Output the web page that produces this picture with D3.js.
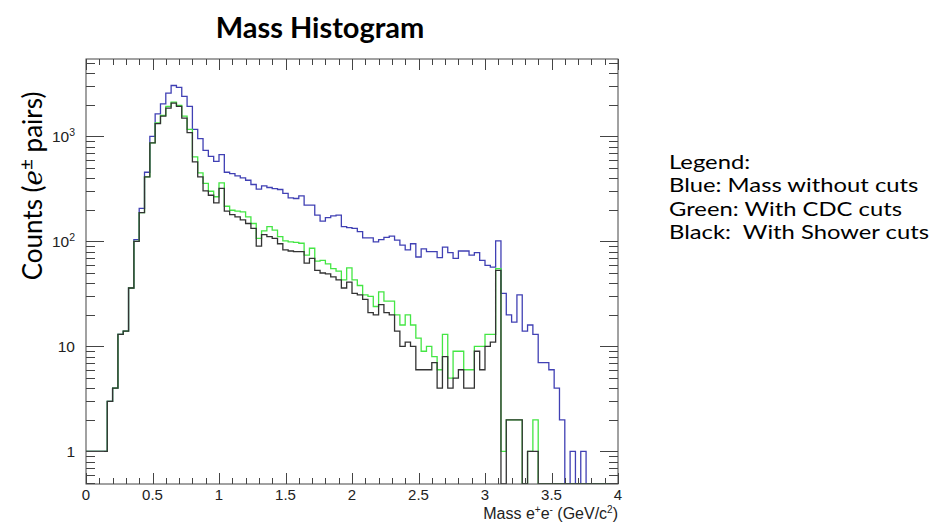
<!DOCTYPE html>
<html>
<head lang="en">
  <title>Mass Histogram</title>
  <script src="https://d3js.org/d3.v7.min.js" charset="utf-8"></script>
  <style>
    body { margin: 0; background: #fff; }
    text { white-space: pre; }
  </style>
</head>
<body>
  <script>
    // histogram: 100 bins of 0.04 GeV/c^2 from 0 to 4
    var binWidth = 0.04;

    var blueCounts = [
      1, 1, 1, 1, 3, 4, 13, 14, 36, 104,
      206, 455, 1000, 1640, 2040, 2580, 3050, 2920, 2400, 1930,
      1165, 951, 736, 646, 579, 670, 455, 442, 420, 402,
      382, 348, 314, 337, 326, 318, 312, 286, 260, 256,
      271, 221, 221, 178, 156, 168, 175, 178, 138, 135,
      133, 124, 108, 108, 99, 104, 109, 112, 103, 92,
      83, 95, 71, 85, 80, 80, 70, 88, 78, 69,
      81, 81, 74, 78, 66, 59, 57, 101, 32, 20,
      17, 31, 14, 16, 13, 7, 7, 6, 4, 2,
      0, 1, 0, 1, 0, 0, 0, 0, 0, 0
    ];

    var greenCounts = [
      1, 1, 1, 1, 3, 4, 13, 14, 36, 100,
      188, 411, 865, 1340, 1580, 1930, 2120, 1970, 1560, 1165,
      637, 449, 356, 300, 266, 360, 216, 198, 194, 191,
      171, 148, 107, 126, 138, 128, 111, 101, 99, 98,
      96, 74, 86, 65, 66, 61, 55, 52, 43, 56,
      43, 38, 31, 30, 24, 33, 27, 27, 20, 16,
      20, 16, 12, 9, 10, 8, 6, 13, 5, 9,
      9, 6, 6, 10, 10, 13, 13, 55, 1, 2,
      2, 2, 0, 1, 2, 0, 0, 0, 0, 0,
      0, 0, 0, 0, 0, 0, 0, 0, 0, 0
    ];

    var blackCounts = [
      1, 1, 1, 1, 3, 4, 13, 14, 36, 100,
      188, 411, 865, 1320, 1560, 1860, 2070, 1930, 1490, 1083,
      571, 411, 303, 275, 233, 320, 194, 180, 171, 160,
      148, 133, 90, 116, 111, 107, 95, 83, 81, 80,
      80, 62, 69, 53, 50, 49, 46, 43, 36, 41,
      32, 31, 28, 21, 20, 25, 21, 20, 14, 10,
      11, 10, 6, 6, 6, 7, 4, 8, 4, 5,
      6, 4, 4, 9, 6, 10, 11, 53, 0, 2,
      2, 2, 0, 1, 1, 0, 0, 0, 0, 0,
      0, 0, 0, 0, 0, 0, 0, 0, 0, 0
    ];

    var xMajorTicks = [0, 0.5, 1, 1.5, 2, 2.5, 3, 3.5, 4];
    var xTickLabels = ["0", "0.5", "1", "1.5", "2", "2.5", "3", "3.5", "4"];
    var yMajorTicks = [1, 10, 100, 1000];
    var legendLines = ["Legend:", "Blue: Mass without cuts", "Green: With CDC cuts", "Black:  With Shower cuts"];

    var width = 943;
    var height = 523;
    var frame = { left: 86, right: 618, top: 59, bottom: 484 };

    var svg = d3.select("body")
      .append("svg")
      .attr("width", width)
      .attr("height", height);

    var x = d3.scaleLinear()
      .domain([0, 4])
      .range([frame.left, frame.right]);

    var yMin = 0.49;
    var y = d3.scaleLog()
      .domain([yMin, 5450])
      .range([frame.bottom, frame.top])
      .clamp(true);

    svg.append("defs").append("clipPath")
        .attr("id", "plotclip")
      .append("rect")
        .attr("x", frame.left)
        .attr("y", frame.top)
        .attr("width", frame.right - frame.left)
        .attr("height", frame.bottom - frame.top);

    // step path through bin edges
    function stepPath(counts) {
      var pts = counts.map(function(c, i) { return [i * binWidth, c]; });
      pts.push([counts.length * binWidth, counts[counts.length - 1]]);
      return d3.line()
        .x(function(d) { return x(d[0]); })
        .y(function(d) { return y(d[1] > 0 ? d[1] : yMin); })
        .curve(d3.curveStepAfter)(pts);
    }

    var hists = svg.append("g").attr("clip-path", "url(#plotclip)");

    [[blueCounts, "#4040b4"], [greenCounts, "#44e644"], [blackCounts, "#333333"]].forEach(function(h) {
      hists.append("path")
        .attr("d", stepPath(h[0]))
        .attr("fill", "none")
        .attr("stroke", h[1])
        .attr("stroke-width", 1.3);
    });

    // frame
    svg.append("rect")
      .attr("x", frame.left)
      .attr("y", frame.top)
      .attr("width", frame.right - frame.left)
      .attr("height", frame.bottom - frame.top)
      .attr("fill", "none")
      .attr("stroke", "#444")
      .attr("stroke-width", 1);

    var tickColor = "#444";

    // x ticks, bottom and top, pointing inside
    var xMinor = d3.range(0, 41).map(function(i) { return i / 10; });
    var xt = svg.append("g").attr("stroke", tickColor).attr("stroke-width", 1);
    xMinor.forEach(function(v, i) {
      var len = (i % 5 === 0) ? 11 : 6;
      var px = Math.round(x(v)) + 0.5;
      xt.append("line").attr("x1", px).attr("x2", px)
        .attr("y1", frame.bottom).attr("y2", frame.bottom - len);
      xt.append("line").attr("x1", px).attr("x2", px)
        .attr("y1", frame.top).attr("y2", frame.top + len);
    });

    svg.append("g").selectAll("text")
        .data(xMajorTicks)
      .enter().append("text")
        .attr("x", function(d) { return x(d); })
        .attr("y", 500)
        .attr("text-anchor", "middle")
        .style("font-family", "'Liberation Sans', Arial, sans-serif")
        .style("font-size", "15px")
        .style("fill", "#222")
        .text(function(d, i) { return xTickLabels[i]; });

    // y ticks, left and right, log minor ticks
    var yTicks = [];
    [0.1, 1, 10, 100, 1000].forEach(function(dec) {
      for (var k = 1; k <= 9; k++) {
        var v = dec * k;
        if (v >= yMin && v <= 5450) yTicks.push({ v: v, major: k === 1 });
      }
    });
    var yt = svg.append("g").attr("stroke", tickColor).attr("stroke-width", 1);
    yTicks.forEach(function(t) {
      var len = t.major ? 18 : 9;
      var py = Math.round(y(t.v)) + 0.5;
      yt.append("line").attr("x1", frame.left).attr("x2", frame.left + len)
        .attr("y1", py).attr("y2", py);
      yt.append("line").attr("x1", frame.right).attr("x2", frame.right - len)
        .attr("y1", py).attr("y2", py);
    });

    var yLab = svg.append("g")
      .style("font-family", "'Liberation Sans', Arial, sans-serif")
      .style("font-size", "15.5px")
      .style("fill", "#222");
    yMajorTicks.forEach(function(v) {
      var t = yLab.append("text")
        .attr("x", 75)
        .attr("y", y(v) + 6)
        .attr("text-anchor", "end");
      if (v < 100) {
        t.text(String(v));
      } else {
        t.append("tspan").text("10");
        t.append("tspan")
          .attr("dy", -6)
          .style("font-size", "10.5px")
          .text(String(Math.round(Math.log10(v))));
      }
    });

    // x axis title
    var xTitle = svg.append("text")
      .attr("x", frame.right)
      .attr("y", 519)
      .attr("text-anchor", "end")
      .style("font-family", "'Liberation Sans', Arial, sans-serif")
      .style("font-size", "16px")
      .style("fill", "#222");
    xTitle.append("tspan").text("Mass e");
    xTitle.append("tspan").attr("dy", -6).style("font-size", "10px").text("+");
    xTitle.append("tspan").attr("dy", 6).text("e");
    xTitle.append("tspan").attr("dy", -6).style("font-size", "10px").text("-");
    xTitle.append("tspan").attr("dy", 6).text(" (GeV/c");
    xTitle.append("tspan").attr("dy", -6).style("font-size", "10px").text("2");
    xTitle.append("tspan").attr("dy", 6).text(")");

    // title
    svg.append("text")
      .attr("x", 320)
      .attr("y", 38)
      .attr("text-anchor", "middle")
      .style("font-family", "Lato, 'Open Sans', sans-serif")
      .style("font-weight", "bold")
      .style("font-size", "29px")
      .style("fill", "#000")
      .text("Mass Histogram");

    // y axis title
    var yTitle = svg.append("text")
      .attr("transform", "translate(42,186) rotate(-90)")
      .attr("text-anchor", "middle")
      .style("font-family", "Lato, 'Open Sans', sans-serif")
      .style("font-size", "26px")
      .style("fill", "#000");
    yTitle.append("tspan").text("Counts (");
    yTitle.append("tspan").style("font-style", "italic").style("font-family", "'DejaVu Serif', serif").text("e");
    yTitle.append("tspan").attr("dy", -9).style("font-size", "19px").text("\u00b1");
    yTitle.append("tspan").attr("dy", 9).text(" pairs)");

    // legend text (horizontally widened to mimic the original font)
    svg.append("g")
        .attr("transform", "translate(669,0) scale(1.22,1)")
      .selectAll("text")
        .data(legendLines)
      .enter().append("text")
        .attr("x", 0)
        .attr("y", function(d, i) { return 169 + i * 23.5; })
        .style("font-family", "Lato, 'Open Sans', sans-serif")
        .style("font-size", "19.5px")
        .style("fill", "#000")
        .text(function(d) { return d; });
  </script>
</body>
</html>
